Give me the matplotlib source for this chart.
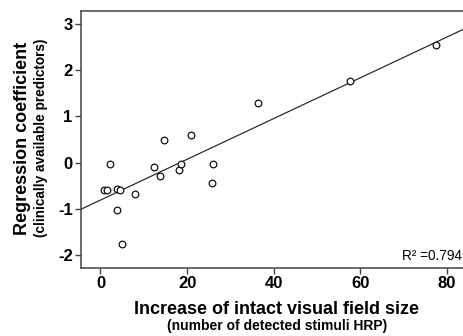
import matplotlib
matplotlib.use("Agg")
import matplotlib.pyplot as plt
import numpy as np

plt.rcParams['font.family'] = ['Liberation Sans', 'DejaVu Sans']
plt.rcParams['axes.unicode_minus'] = False

# Data
x_vals = [0.9, 1.4, 2.3, 3.7, 4.4, 3.7, 4.9, 8.0, 12.3, 13.7, 14.6, 18.1, 18.5,
          21.0, 25.7, 26.0, 36.3, 57.6, 77.4]
y_vals = [-0.59, -0.59, -0.02, -0.58, -0.59, -1.02, -1.75, -0.67, -0.09, -0.28,
          0.50, -0.17, -0.04, 0.59, -0.45, -0.04, 1.28, 1.76, 2.55]
fit_intercept = -0.81
fit_slope = 0.0441
r2_label = "R\u00b2 =0.794"
x_ticks = [0, 20, 40, 60, 80]
y_ticks = [-2, -1, 0, 1, 2, 3]

W, H = 464, 336
fig = plt.figure(figsize=(W / 100, H / 100), dpi=100)
ax = fig.add_axes([81 / W, (H - 268) / H, (W - 81) / W, 257 / H])

xlim = (-4.5, 83.9)
ylim = (-2.28, 3.28)
ax.set_xlim(*xlim)
ax.set_ylim(*ylim)

xl = np.array(xlim)
ax.plot(xl, fit_intercept + fit_slope * xl, color='#222222', lw=0.85, zorder=2)
ax.plot(x_vals, y_vals, linestyle='none', marker='o', markersize=4.8,
        markerfacecolor='white', markeredgecolor='#111111', markeredgewidth=0.9, zorder=3)

for s in ['left', 'bottom', 'top']:
    ax.spines[s].set_color('#444444')
    ax.spines[s].set_linewidth(1.1)
ax.spines['right'].set_visible(False)

ax.set_xticks(x_ticks)
ax.set_yticks(y_ticks)
ax.tick_params(axis='both', direction='out', length=4.5, width=1, color='#444444',
               labelsize=12, pad=1.5)
for lab in ax.get_xticklabels() + ax.get_yticklabels():
    lab.set_fontweight('bold')

def px(x, y):
    return x / W, 1 - y / H

fig.text(*px(23, 138), "Regression coefficient", rotation=90, fontsize=13,
         fontweight='bold', ha='center', va='center')
fig.text(*px(41, 138), "(clinically available predictors)", rotation=90, fontsize=9.8,
         fontweight='bold', ha='center', va='center')
fig.text(*px(277, 309), "Increase of intact visual field size", fontsize=13,
         fontweight='bold', ha='center', va='center')
fig.text(*px(277, 326), "(number of detected stimuli HRP)", fontsize=10,
         fontweight='bold', ha='center', va='center')
fig.text(*px(462, 260), r2_label, fontsize=9.8, ha='right', va='baseline')

fig.savefig("out.png", dpi=100)
